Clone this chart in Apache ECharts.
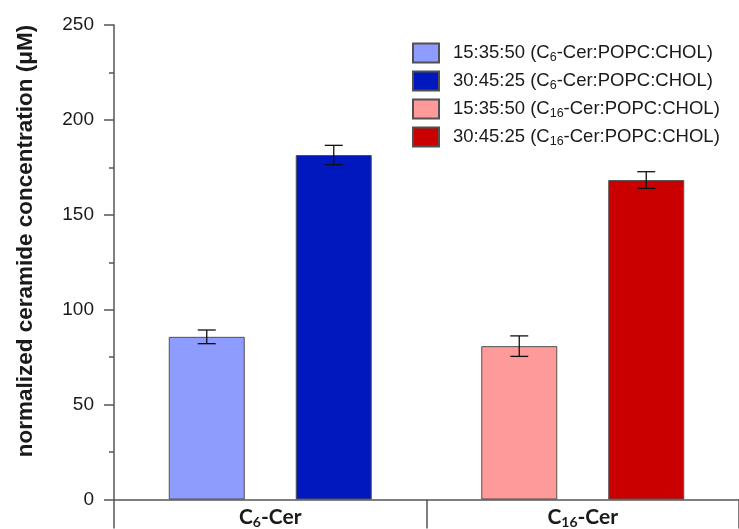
<!DOCTYPE html>
<html>
<head>
<meta charset="utf-8">
<script src="https://cdn.jsdelivr.net/npm/echarts@6/dist/echarts.min.js"></script>
<style>
  html, body { margin: 0; padding: 0; background: #fff; }
  #chart { width: 739px; height: 529px; }
</style>
</head>
<body>
<div id="chart"></div>
<script>
// Ceramide groups on the x axis
const categories = ['C6-Cer', 'C16-Cer'];

// Legend / series names (molar ratio, composition)
const seriesNames = [
  '15:35:50 (C6-Cer:POPC:CHOL)',
  '30:45:25 (C6-Cer:POPC:CHOL)',
  '15:35:50 (C16-Cer:POPC:CHOL)',
  '30:45:25 (C16-Cer:POPC:CHOL)'
];

// Mean normalized ceramide concentration (µM) and error, per group
const ratio153550Means = [85.7, 80.8];
const ratio153550Errors = [3.6, 5.4];
const ratio304525Means = [181.5, 168.3];
const ratio304525Errors = [5.1, 4.4];

// Y axis ticks
const yTicks = [0, 50, 100, 150, 200, 250];

const colors = ['#8e9cfe', '#0018be', '#ff9a9a', '#ca0000'];
const BAR_WIDTH = 76;
const BAR_GAP_PX = 51;
const BAR_OFFSET = (BAR_WIDTH + BAR_GAP_PX) / 2;

// Turn "C6-" / "C16-" into a subscripted rich-text label
function richName(name, main, sub) {
  const m = name.match(/^(.*C)(\d+)(-.*)$/);
  if (!m) return '{' + main + '|' + name + '}';
  return '{' + main + '|' + m[1] + '}{' + sub + '|' + m[2] + '}{' + main + '|' + m[3] + '}';
}

// Each bar belongs to one group only; the other slot is empty
function onlyIn(values, idx) {
  return values.map((v, i) => (i === idx ? v : '-'));
}

const barSeries = [
  { name: seriesNames[0], stack: 'low',  data: onlyIn(ratio153550Means, 0) },
  { name: seriesNames[1], stack: 'high', data: onlyIn(ratio304525Means, 0) },
  { name: seriesNames[2], stack: 'low',  data: onlyIn(ratio153550Means, 1) },
  { name: seriesNames[3], stack: 'high', data: onlyIn(ratio304525Means, 1) }
].map((s, i) => ({
  type: 'bar',
  name: s.name,
  stack: s.stack,
  data: s.data,
  barWidth: BAR_WIDTH,
  barGap: (BAR_GAP_PX / BAR_WIDTH * 100).toFixed(1) + '%',
  itemStyle: { color: colors[i], borderColor: '#505050', borderWidth: 1 },
  emphasis: { disabled: true },
  z: 2
}));

// Error bar data: [category index, low, high, side (-1 left bar, +1 right bar)]
const errorData = [];
categories.forEach((c, i) => {
  errorData.push([i, ratio153550Means[i] - ratio153550Errors[i], ratio153550Means[i] + ratio153550Errors[i], -1]);
  errorData.push([i, ratio304525Means[i] - ratio304525Errors[i], ratio304525Means[i] + ratio304525Errors[i], 1]);
});

const CAP = 9;
const errorSeries = {
  type: 'custom',
  name: 'error',
  data: errorData,
  z: 5,
  silent: true,
  renderItem: function (params, api) {
    const top = api.coord([api.value(0), api.value(2)]);
    const bot = api.coord([api.value(0), api.value(1)]);
    const x = top[0] + api.value(3) * BAR_OFFSET;
    const style = { stroke: '#111', lineWidth: 1.3 };
    return {
      type: 'group',
      children: [
        { type: 'line', shape: { x1: x, y1: top[1], x2: x, y2: bot[1] }, style: style },
        { type: 'line', shape: { x1: x - CAP, y1: top[1], x2: x + CAP, y2: top[1] }, style: style },
        { type: 'line', shape: { x1: x - CAP, y1: bot[1], x2: x + CAP, y2: bot[1] }, style: style }
      ]
    };
  }
};

const axisColor = '#555';
const sans = 'Liberation Sans, Arial, sans-serif';
const chart = echarts.init(document.getElementById('chart'), null, { renderer: 'canvas' });
chart.setOption({
  animation: false,
  backgroundColor: '#fff',
  grid: { left: 114, top: 25, bottom: 29, width: 632, containLabel: false },
  legend: {
    data: seriesNames,
    orient: 'vertical',
    left: 407,
    top: 37,
    itemWidth: 26,
    itemHeight: 19,
    itemGap: 6,
    icon: 'rect',
    selectedMode: false,
    formatter: name => richName(name, 't', 's'),
    textStyle: {
      padding: [0, 0, 0, 9],
      rich: {
        t: { fontFamily: sans, fontSize: 18.5, color: '#1a1a1a', lineHeight: 20, verticalAlign: 'middle' },
        s: { fontFamily: sans, fontSize: 12.5, color: '#1a1a1a', lineHeight: 11, padding: [9, 0, 0, 0], verticalAlign: 'middle' }
      }
    }
  },
  xAxis: {
    type: 'category',
    data: categories,
    axisLine: { lineStyle: { color: axisColor, width: 1.5 } },
    axisTick: { show: true, alignWithLabel: false, inside: false, length: 29, lineStyle: { color: axisColor, width: 1.5 } },
    axisLabel: {
      margin: 8,
      formatter: v => richName(v, 'b', 'bs'),
      rich: {
        b: { fontFamily: 'Lato, Open Sans, sans-serif', fontWeight: 'bold', fontSize: 21, color: '#1a1a1a', lineHeight: 20, verticalAlign: 'middle' },
        bs: { fontFamily: 'Lato, Open Sans, sans-serif', fontWeight: 'bold', fontSize: 14, color: '#1a1a1a', lineHeight: 13, padding: [9, 0, 0, 0], verticalAlign: 'middle' }
      }
    },
    splitLine: { show: false }
  },
  yAxis: {
    type: 'value',
    min: yTicks[0],
    max: yTicks[yTicks.length - 1],
    interval: yTicks[1] - yTicks[0],
    axisLine: { show: true, lineStyle: { color: axisColor, width: 1.5 } },
    axisTick: { show: true, inside: false, length: 10, lineStyle: { color: axisColor, width: 1.5 } },
    minorTick: { show: true, splitNumber: 2, length: 5, lineStyle: { color: axisColor, width: 1.5 } },
    axisLabel: { margin: 20, fontFamily: sans, fontSize: 19, color: '#1a1a1a' },
    splitLine: { show: false }
  },
  graphic: [{
    type: 'text',
    x: 26,
    y: 241,
    rotation: Math.PI / 2,
    style: {
      text: 'normalized ceramide concentration (μM)',
      x: 0, y: 0,
      align: 'center',
      verticalAlign: 'middle',
      fontFamily: sans,
      fontWeight: 'bold',
      fontSize: 22.5,
      fill: '#1a1a1a'
    }
  }],
  series: barSeries.concat([errorSeries])
});
</script>
</body>
</html>
